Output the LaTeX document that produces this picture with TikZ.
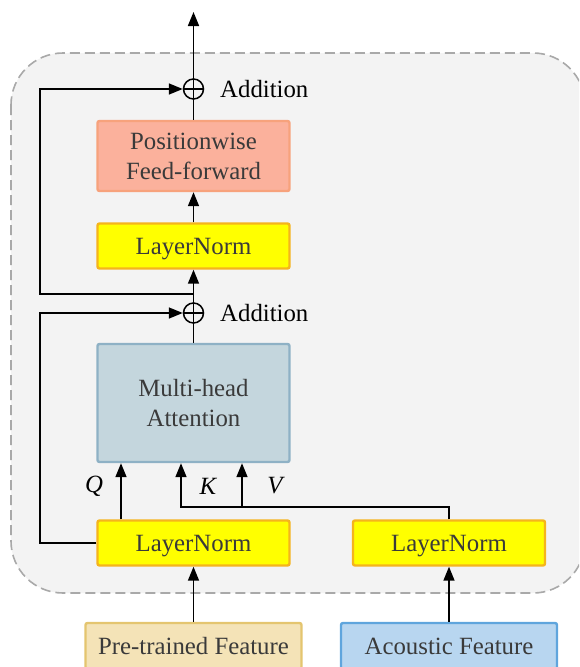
\documentclass[tikz,border=0pt]{standalone}
\usepackage{fontspec}
\setmainfont{Liberation Serif}
\usetikzlibrary{arrows.meta}
\definecolor{bgc}{HTML}{F3F3F3}
\definecolor{dashc}{HTML}{A9A9A9}
\definecolor{txt}{HTML}{3A3A3A}
\definecolor{ffnfill}{HTML}{FBB19C}
\definecolor{ffnline}{HTML}{F7A27C}
\definecolor{lnfill}{HTML}{FFFF00}
\definecolor{lnline}{HTML}{F5B41C}
\definecolor{mhafill}{HTML}{C4D6DD}
\definecolor{mhaline}{HTML}{8EB1C5}
\definecolor{prefill}{HTML}{F4E3B7}
\definecolor{preline}{HTML}{E4C56F}
\definecolor{acofill}{HTML}{B8D6F0}
\definecolor{acoline}{HTML}{5FA5DD}
\begin{document}
\begin{tikzpicture}[x=1pt,y=-1pt,
  box/.style={draw, line width=2.4pt, rounded corners=2pt, inner sep=0pt,
    text=txt, align=center, minimum width=192pt,
    font=\fontsize{24.8}{30}\selectfont},
  lnbox/.style={box, fill=lnfill, draw=lnline, minimum height=45pt, text depth=0pt},
  featbox/.style={box, minimum width=216pt, minimum height=46pt, text depth=0pt},
  addnode/.style={draw, circle, line width=1.5pt, minimum size=20pt, inner sep=0pt},
  lbl/.style={font=\fontsize{24.8}{30}\selectfont, text=black, inner sep=0pt},
  qkv/.style={font=\fontsize{24.8}{30}\selectfont\itshape, text=black, inner sep=0pt},
  arr/.style={-{Triangle[length=14pt,width=11pt]}, line width=1.6pt},
  conn/.style={line width=1.6pt}]
\useasboundingbox (0,0) rectangle (579,667);
\begin{scope}
\clip (0,0) rectangle (579,667);
% encoder block background
\draw[fill=bgc, draw=dashc, line width=1.6pt, dash pattern=on 10pt off 5pt,
  rounded corners=52pt] (11,53) rectangle (585,593);

% blocks
\node[box, fill=ffnfill, draw=ffnline, minimum height=70pt] (ffn) at (193.5,156) {Positionwise\\Feed-forward};
\node[lnbox] (ln2) at (193.5,246) {LayerNorm};
\node[box, fill=mhafill, draw=mhaline, minimum height=118pt] (mha) at (193.5,403) {Multi-head\\Attention};
\node[lnbox] (lnq) at (193.5,543) {LayerNorm};
\node[lnbox] (lnk) at (449,543) {LayerNorm};
\node[featbox, fill=prefill, draw=preline] (pre) at (193.5,646) {Pre-trained Feature};
\node[featbox, fill=acofill, draw=acoline] (aco) at (449,646) {Acoustic Feature};

% residual additions
\node[addnode] (add1) at (193.5,89) {};
\node[addnode] (add2) at (193.5,313) {};
\foreach \a in {add1,add2} {
  \draw[line width=1.5pt] (\a.north) -- (\a.south) (\a.west) -- (\a.east);
}
\node[lbl, anchor=west] (addl1) at (220,89) {Addition};
\node[lbl, anchor=west] (addl2) at (220,313) {Addition};

% helper points
\coordinate (out) at (193.5,12);
\coordinate (br1) at (193.5,294);
\coordinate (skipA) at (40,294);
\coordinate (skipB) at (40,543);
\coordinate (kvjoin) at (242,507);

% main path
\draw[arr] (add1.north) -- (out);
\draw[conn] (ffn.north) -- (add1.south);
\draw[arr] (ln2.north) -- (ffn.south);
\draw[arr] (add2.north) -- (ln2.south);
\draw[conn] (mha.north) -- (add2.south);

% skip connections
\draw[arr] (br1) -- (skipA) |- (add1.west);
\draw[arr] (lnq.west) -- (skipB) |- (add2.west);

% query, key and value
\draw[arr] ([xshift=-72.5pt]lnq.north) -- ([xshift=-72.5pt]mha.south);
\draw[arr] (lnk.north) |- (kvjoin) -| ([xshift=-12.5pt]mha.south);
\draw[arr] (kvjoin) -- ([xshift=48.5pt]mha.south);
\node[qkv] (q) at (94,486) {Q};
\node[qkv] (k) at (208,486) {K};
\node[qkv] (v) at (275,486) {V};

% inputs
\draw[arr] (pre.north) -- (lnq.south);
\draw[arr] (aco.north) -- (lnk.south);
\end{scope}
\end{tikzpicture}
\end{document}
